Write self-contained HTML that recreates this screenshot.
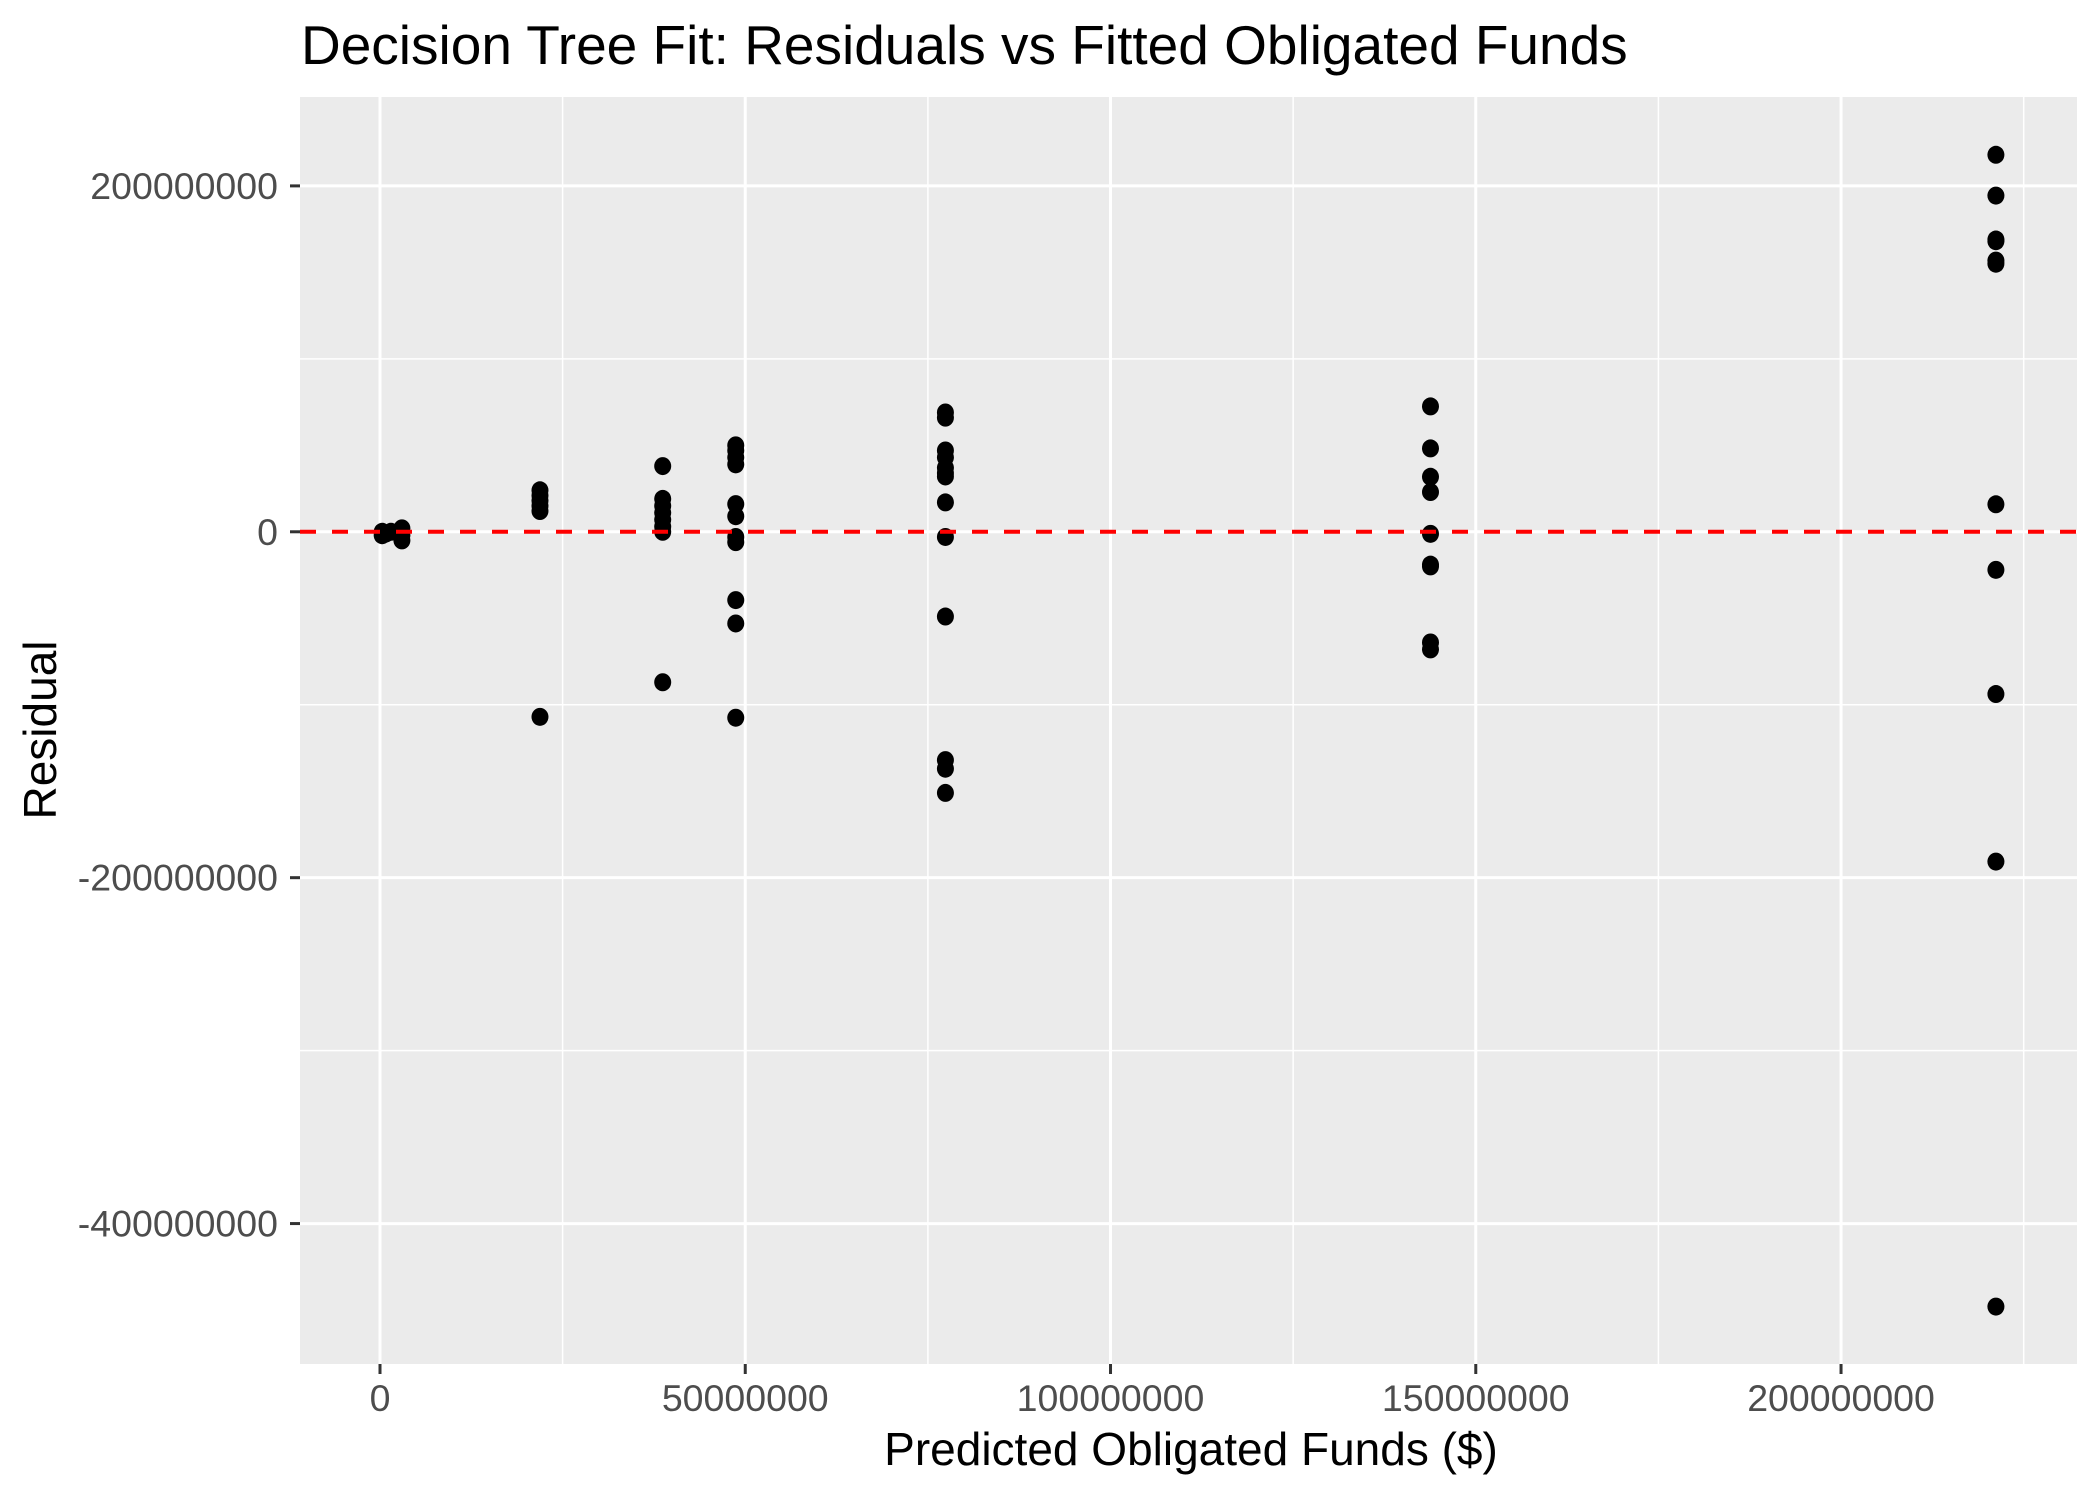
<!DOCTYPE html>
<html><head><meta charset="utf-8"><style>
html,body{margin:0;padding:0;background:#fff;}
svg text{font-family:"Liberation Sans",Arial,sans-serif;}
</style></head><body>
<svg id="chart" width="2100" height="1499" xmlns="http://www.w3.org/2000/svg">
<rect width="2100" height="1499" fill="#fff"/>
<text x="301" y="64" font-size="55" fill="#000">Decision Tree Fit: Residuals vs Fitted Obligated Funds</text>
<rect x="300" y="97" width="1777" height="1267" fill="#ebebeb"/>
<g id="grid"></g>
<g id="axes"></g>
<g id="points"></g>
<text x="1191" y="1465" font-size="46" text-anchor="middle" fill="#000">Predicted Obligated Funds ($)</text>
<text transform="translate(56,730) rotate(-90)" font-size="46" text-anchor="middle" fill="#000">Residual</text>
</svg>
<script>
const xTicks=[0,50,100,150,200];
const xTickLabels=["0","50000000","100000000","150000000","200000000"];
const yTicks=[-400,-200,0,200];
const yTickLabels=["-400000000","-200000000","0","200000000"];
const fittedX=[0.3,0.3,0.8,1.5,3,3,3,
 21.9,21.9,21.9,21.9,21.9,21.9,
 38.7,38.7,38.7,38.7,38.7,38.7,38.7,38.7,
 48.7,48.7,48.7,48.7,48.7,48.7,48.7,48.7,48.7,48.7,48.7,
 77.4,77.4,77.4,77.4,77.4,77.4,77.4,77.4,77.4,77.4,77.4,77.4,77.4,
 143.8,143.8,143.8,143.8,143.8,143.8,143.8,143.8,143.8,
 221.2,221.2,221.2,221.2,221.2,221.2,221.2,221.2,221.2,221.2,221.2];
const residualY=[0,-2,-1,0,2,-2,-5,
 24,21,18,15,12,-107,
 38,19,15,11,7,3,0,-87,
 50,47,43,39,16,9,-3,-6,-39.5,-53,-107.5,
 69,66,47,43,37,34,32,17,-3,-49,-132,-137,-151,
 72.5,48.2,31.8,23,-1.2,-19,-64,-68,-20,
 218,194.4,169,156.8,15.9,-22,-93.8,-190.7,-448,155,168];
const NS='http://www.w3.org/2000/svg';
const L=300,R=2077,T=97,B=1364;
const xMin=-10.95,xMax=232.3,yMin=-481.2,yMax=251.4;
const sx=v=>L+(v-xMin)/(xMax-xMin)*(R-L);
const sy=v=>B-(v-yMin)/(yMax-yMin)*(B-T);
function mk(tag,at,parent){const e=document.createElementNS(NS,tag);for(const k in at)e.setAttribute(k,at[k]);document.getElementById(parent).appendChild(e);return e;}
const grid='grid',axes='axes';
for(let i=0;i<xTicks.length;i++){const m=xTicks[i]+25;if(m<xMax){const e=mk('line',{x1:sx(m),x2:sx(m),y1:T,y2:B,stroke:'#fff','stroke-width':1.5},grid);

}}
for(let i=0;i<yTicks.length;i++){const m=yTicks[i]+100;if(m<yMax){const e=mk('line',{x1:L,x2:R,y1:sy(m),y2:sy(m),stroke:'#fff','stroke-width':1.5},grid);

}}
for(let i=0;i<xTicks.length;i++){const x=sx(xTicks[i]);
const g=mk('line',{x1:x,x2:x,y1:T,y2:B,stroke:'#fff','stroke-width':3},grid);


const t=mk('line',{x1:x,x2:x,y1:B,y2:B+10,stroke:'#333','stroke-width':3},axes);


const l=mk('text',{x:x,y:B+47,'font-size':37.5,fill:'#4d4d4d','text-anchor':'middle'},axes);l.textContent=xTickLabels[i];

}
for(let i=0;i<yTicks.length;i++){const y=sy(yTicks[i]);
const g=mk('line',{x1:L,x2:R,y1:y,y2:y,stroke:'#fff','stroke-width':3},grid);


const t=mk('line',{x1:L-10,x2:L,y1:y,y2:y,stroke:'#333','stroke-width':3},axes);


const l=mk('text',{x:L-22,y:y+13,'font-size':37.5,fill:'#4d4d4d','text-anchor':'end'},axes);l.textContent=yTickLabels[i];

}
for(let i=0;i<fittedX.length;i++){const c=mk('ellipse',{cx:sx(fittedX[i]),cy:sy(residualY[i]),rx:8.5,ry:9,fill:'#000'},'points');

}
const z=mk('line',{x1:L,x2:R,y1:sy(0),y2:sy(0),stroke:'#ff0000','stroke-width':4,'stroke-dasharray':'16 16'},'points');


</script>
</body></html>
